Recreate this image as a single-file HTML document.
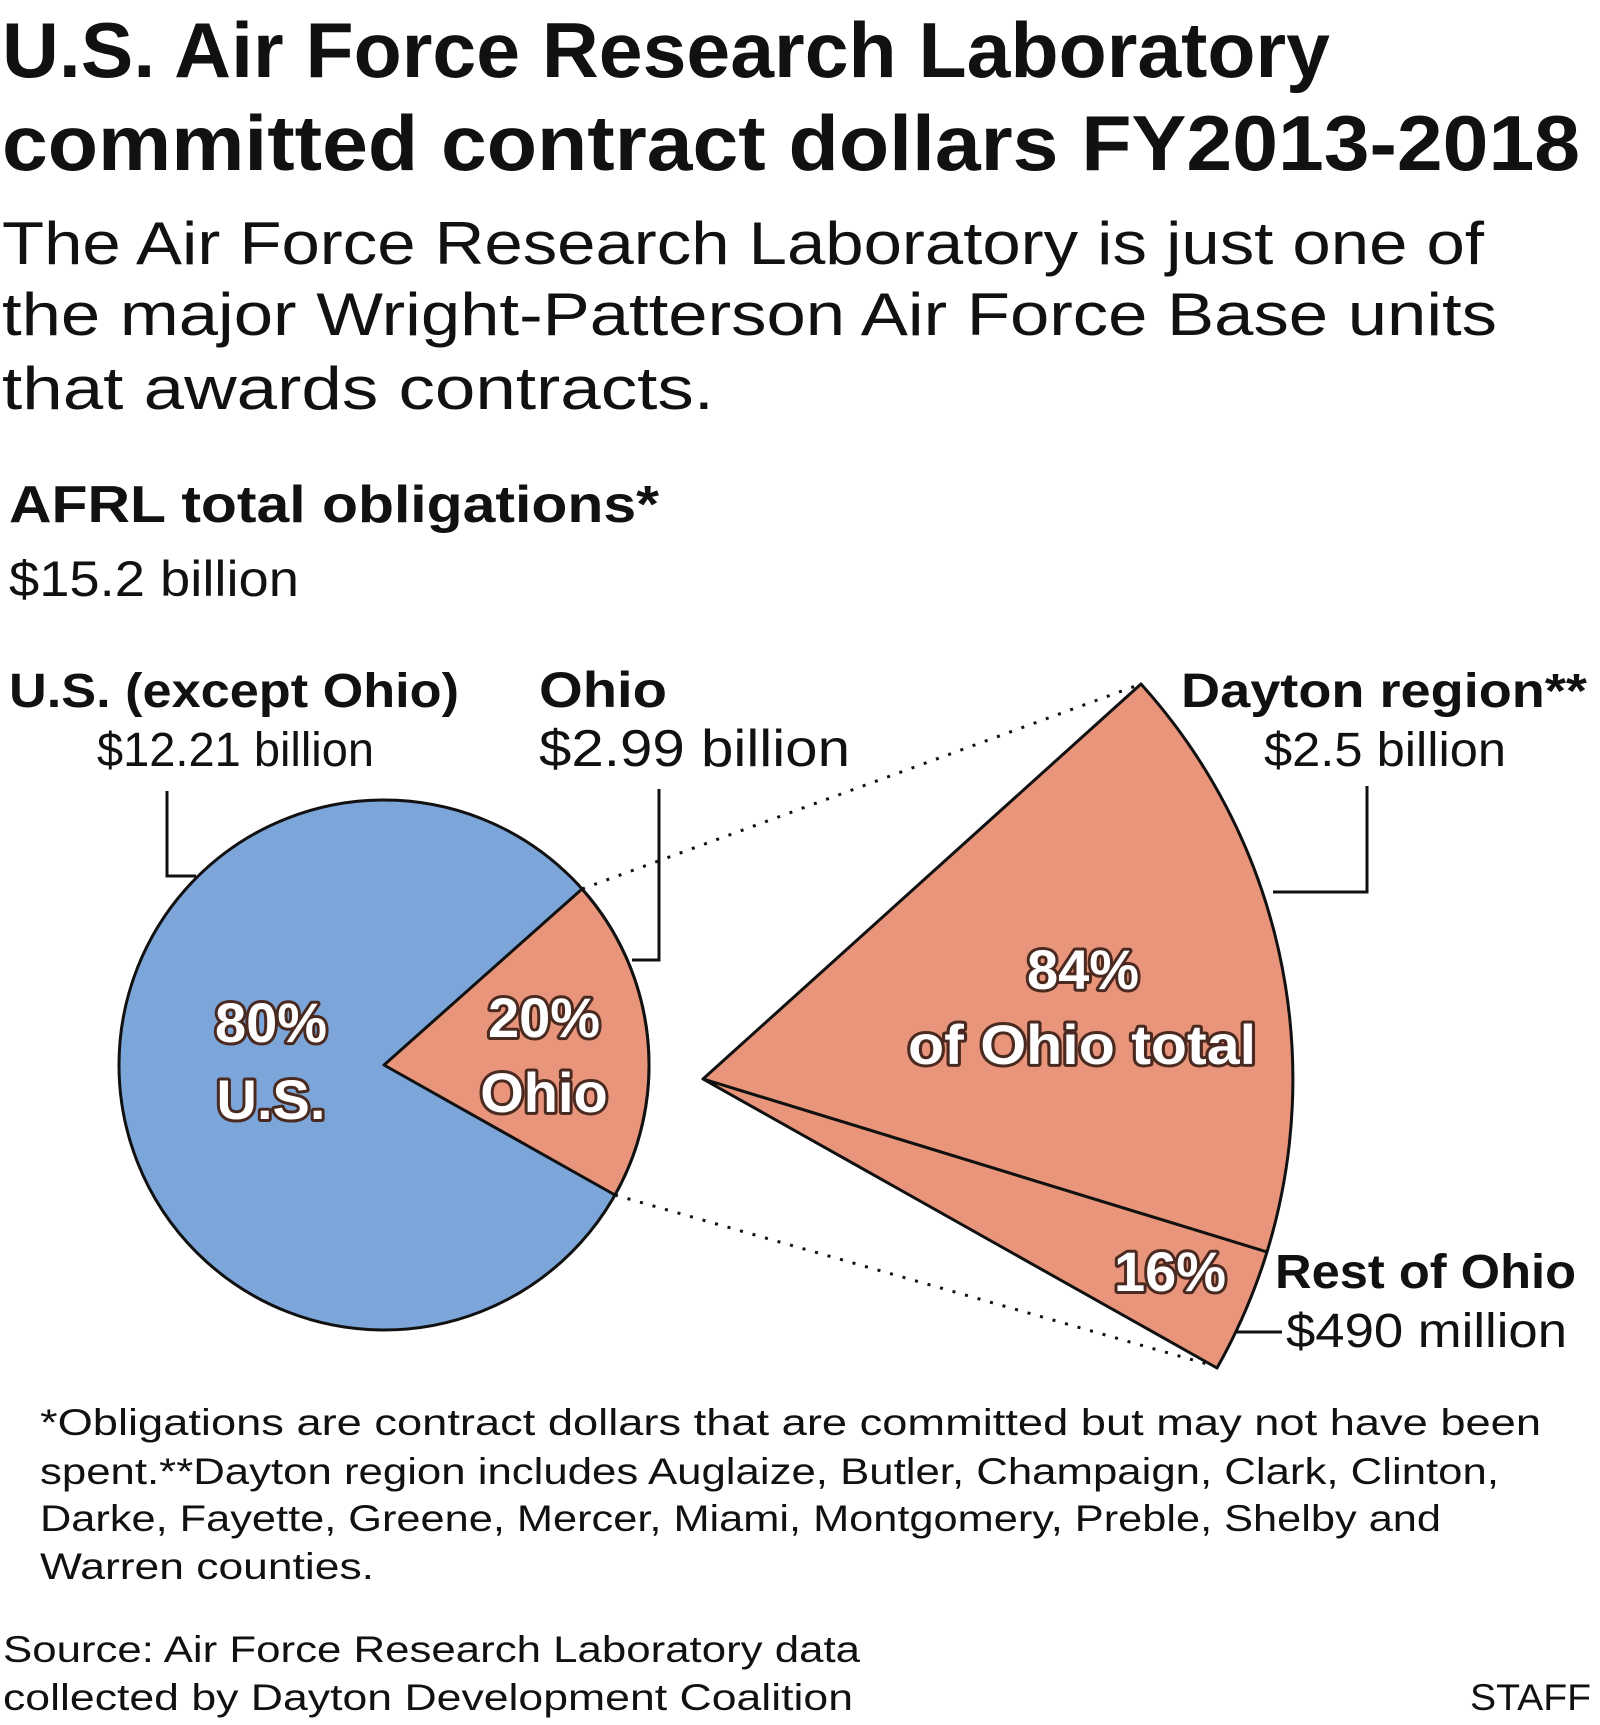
<!DOCTYPE html>
<html><head><meta charset="utf-8"><style>
html,body{margin:0;padding:0;background:#fff;width:1600px;height:1725px;overflow:hidden}
svg{display:block}
text{font-family:"Liberation Sans",sans-serif;fill:#111}
.b{font-weight:bold}
.w{fill:#fff;font-weight:bold;stroke:#4a2a20;stroke-width:6;paint-order:stroke;stroke-linejoin:round}
</style></head><body>
<svg width="1600" height="1725" viewBox="0 0 1600 1725">
<text class="b" x="2" y="77" font-size="78" textLength="1328" lengthAdjust="spacingAndGlyphs">U.S. Air Force Research Laboratory</text>
<text class="b" x="2" y="170" font-size="78" textLength="1578" lengthAdjust="spacingAndGlyphs">committed contract dollars FY2013-2018</text>
<text x="2" y="264" font-size="60" textLength="1482" lengthAdjust="spacingAndGlyphs">The Air Force Research Laboratory is just one of</text>
<text x="2" y="335" font-size="60" textLength="1495" lengthAdjust="spacingAndGlyphs">the major Wright-Patterson Air Force Base units</text>
<text x="2" y="409" font-size="60" textLength="712" lengthAdjust="spacingAndGlyphs">that awards contracts.</text>
<text class="b" x="9" y="522" font-size="52" textLength="650" lengthAdjust="spacingAndGlyphs">AFRL total obligations*</text>
<text x="9" y="596" font-size="50" textLength="290" lengthAdjust="spacingAndGlyphs">$15.2 billion</text>
<text class="b" x="9" y="707" font-size="48" textLength="450" lengthAdjust="spacingAndGlyphs">U.S. (except Ohio)</text>
<text x="97" y="766" font-size="48" textLength="277" lengthAdjust="spacingAndGlyphs">$12.21 billion</text>
<text class="b" x="539" y="707" font-size="50" textLength="128" lengthAdjust="spacingAndGlyphs">Ohio</text>
<text x="539" y="766" font-size="52" textLength="311" lengthAdjust="spacingAndGlyphs">$2.99 billion</text>
<text class="b" x="1181" y="707" font-size="48" textLength="406" lengthAdjust="spacingAndGlyphs">Dayton region**</text>
<text x="1264" y="766" font-size="48" textLength="242" lengthAdjust="spacingAndGlyphs">$2.5 billion</text>
<g fill="none" stroke="#111" stroke-width="3">
<polyline points="167,791 167,876 196,876"/>
<polyline points="659,789 659,960 632,960"/>
<polyline points="1367,786 1367,892 1273,892"/>
<polyline points="1231,1332 1282,1332"/>
</g>
<g stroke="#111" stroke-width="3" stroke-dasharray="3,10" fill="none">
<line x1="582" y1="889" x2="1141" y2="684"/>
<line x1="615" y1="1195" x2="1214" y2="1366"/>
</g>
<circle cx="384" cy="1065" r="265" fill="#7ca6da" stroke="#111" stroke-width="3"/>
<path d="M384,1065 L582,889 A265,265 0 0 1 615,1195 Z" fill="#e8957b" stroke="#111" stroke-width="3" stroke-linejoin="round"/>
<path d="M703,1079 L1141,684 A590,590 0 0 1 1267,1252 Z" fill="#e8957b" stroke="#111" stroke-width="3" stroke-linejoin="round"/>
<path d="M703,1079 L1267,1252 A590,590 0 0 1 1217,1368 Z" fill="#e8957b" stroke="#111" stroke-width="3" stroke-linejoin="round"/>
<g text-anchor="middle">
<text class="w" x="271" y="1042" font-size="56">80%</text>
<text class="w" x="271" y="1119" font-size="56">U.S.</text>
<text class="w" x="544" y="1037" font-size="56">20%</text>
<text class="w" x="544" y="1112" font-size="56">Ohio</text>
<text class="w" x="1083" y="989" font-size="56">84%</text>
<text class="w" x="1082" y="1064" font-size="56" textLength="348" lengthAdjust="spacingAndGlyphs">of Ohio total</text>
<text class="w" x="1170" y="1291" font-size="56">16%</text>
</g>
<text class="b" x="1275" y="1288" font-size="48" textLength="301" lengthAdjust="spacingAndGlyphs">Rest of Ohio</text>
<text x="1286" y="1347" font-size="48" textLength="281" lengthAdjust="spacingAndGlyphs">$490 million</text>
<g font-size="37" fill="#333">
<text x="40" y="1435" textLength="1501" lengthAdjust="spacingAndGlyphs">*Obligations are contract dollars that are committed but may not have been</text>
<text x="40" y="1484" textLength="1459" lengthAdjust="spacingAndGlyphs">spent.**Dayton region includes Auglaize, Butler, Champaign, Clark, Clinton,</text>
<text x="40" y="1531" textLength="1401" lengthAdjust="spacingAndGlyphs">Darke, Fayette, Greene, Mercer, Miami, Montgomery, Preble, Shelby and</text>
<text x="40" y="1579" textLength="334" lengthAdjust="spacingAndGlyphs">Warren counties.</text>
<text x="3" y="1662" textLength="857" lengthAdjust="spacingAndGlyphs">Source: Air Force Research Laboratory data</text>
<text x="3" y="1710" textLength="850" lengthAdjust="spacingAndGlyphs">collected by Dayton Development Coalition</text>
<text x="1470" y="1710" textLength="121" lengthAdjust="spacingAndGlyphs">STAFF</text>
</g>
</svg>
</body></html>
